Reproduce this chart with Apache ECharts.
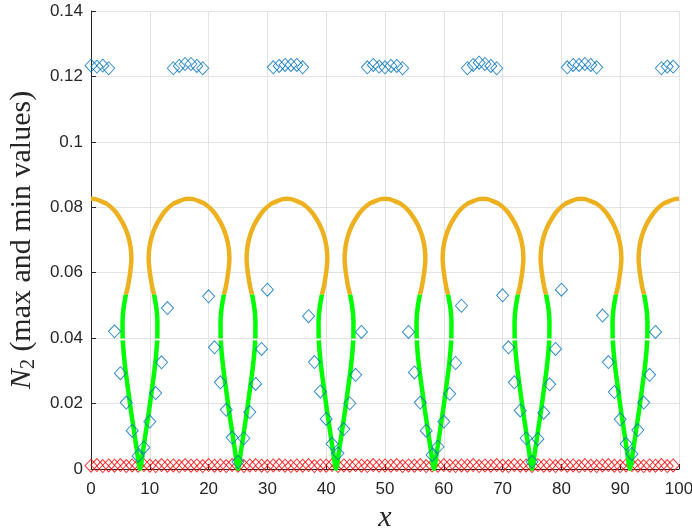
<!DOCTYPE html>
<html><head><meta charset="utf-8">
<script src="https://cdn.jsdelivr.net/npm/echarts@6/dist/echarts.min.js"></script>
<style>html,body{margin:0;padding:0;background:#fff}#c{width:692px;height:531px}</style>
</head><body><div id="c"></div>
<script>
// ---- tick labels ----
const xTicks = [0, 10, 20, 30, 40, 50, 60, 70, 80, 90, 100];
const yTickLabels = ['0', '0.02', '0.04', '0.06', '0.08', '0.1', '0.12', '0.14'];

// ---- sample positions (integer x) ----
const sampleX = [0,1,2,3,4,5,6,7,8,9,10,11,12,13,14,15,16,17,18,19,20,21,22,23,24,25,26,27,28,29,
  30,31,32,33,34,35,36,37,38,39,40,41,42,43,44,45,46,47,48,49,50,51,52,53,54,55,56,57,58,59,
  60,61,62,63,64,65,66,67,68,69,70,71,72,73,74,75,76,77,78,79,80,81,82,83,84,85,86,87,88,89,
  90,91,92,93,94,95,96,97,98,99];

// ---- max values (blue diamonds) ----
const maxVals = [0.1233,0.1230,0.1233,0.1225,
  0.0421,0.0293,0.0203,0.0117,0.0040,0.0066,0.0145,0.0232,0.0326,0.0492,
  0.1225,0.1232,0.1238,0.1238,0.1232,0.1225,
  0.0528,0.0372,0.0265,0.0181,0.0096,0.0022,0.0094,0.0174,0.0260,0.0367,0.0548,
  0.1228,0.1232,0.1235,0.1235,0.1235,0.1228,
  0.0467,0.0327,0.0237,0.0153,0.0077,0.0048,0.0122,0.0201,0.0288,0.0419,
  0.1228,0.1235,0.1230,0.1228,0.1232,0.1232,0.1225,
  0.0419,0.0295,0.0203,0.0117,0.0043,0.0068,0.0145,0.0230,0.0324,0.0499,
  0.1225,0.1235,0.1242,0.1238,0.1232,0.1225,
  0.0531,0.0372,0.0265,0.0179,0.0094,0.0022,0.0092,0.0172,0.0259,0.0367,0.0548,
  0.1228,0.1235,0.1235,0.1238,0.1235,0.1228,
  0.0469,0.0327,0.0235,0.0152,0.0077,0.0046,0.0119,0.0203,0.0288,0.0419,
  0.1225,0.1230,0.1230];

// ---- min values (red diamonds) ----
const minVals = [0.0010,0.0012,0.0009,0.0011,0.0010,0.0012,0.0009,0.0011,0.0010,0.0012,
  0.0010,0.0009,0.0012,0.0010,0.0011,0.0009,0.0012,0.0010,0.0011,0.0009,
  0.0012,0.0010,0.0011,0.0009,0.0012,0.0010,0.0009,0.0011,0.0012,0.0010,
  0.0009,0.0011,0.0012,0.0010,0.0009,0.0011,0.0010,0.0012,0.0009,0.0011,
  0.0010,0.0012,0.0009,0.0011,0.0010,0.0012,0.0010,0.0009,0.0012,0.0010,
  0.0011,0.0010,0.0012,0.0009,0.0011,0.0010,0.0012,0.0009,0.0011,0.0010,
  0.0012,0.0010,0.0009,0.0011,0.0010,0.0012,0.0009,0.0011,0.0010,0.0012,
  0.0010,0.0009,0.0012,0.0010,0.0011,0.0009,0.0012,0.0010,0.0011,0.0009,
  0.0012,0.0010,0.0011,0.0009,0.0012,0.0010,0.0009,0.0011,0.0012,0.0010,
  0.0009,0.0011,0.0012,0.0010,0.0009,0.0011,0.0010,0.0012,0.0009,0.0011];

// ---- orange arcs (upper branches), y levels shared ----
const domeY = [0.0533,0.0558,0.0599,0.0625,0.0645,0.0680,0.0711,0.0740,0.0765,0.0790,0.0810,0.0820,0.0825,
  0.0826,
  0.0825,0.0820,0.0810,0.0790,0.0765,0.0740,0.0711,0.0680,0.0645,0.0625,0.0599,0.0558,0.0533];
const dome0X = [0.00,0.73,1.53,2.73,3.98,4.98,5.73,6.33,6.71,6.87,6.81,6.65,6.28,5.93];
const dome17X = [10.74,10.39,10.02,9.86,9.80,9.96,10.34,10.94,11.69,12.69,13.94,15.14,15.94,16.67,
  17.40,18.20,19.40,20.65,21.65,22.40,23.00,23.38,23.54,23.48,23.32,22.95,22.60];
const dome33X = [27.40,27.05,26.68,26.52,26.46,26.62,27.00,27.60,28.35,29.35,30.60,31.80,32.60,33.33,
  34.06,34.86,36.06,37.31,38.31,39.06,39.66,40.04,40.20,40.14,39.98,39.61,39.26];
const dome50X = [44.07,43.72,43.35,43.19,43.13,43.29,43.67,44.27,45.02,46.02,47.27,48.47,49.27,50.00,
  50.73,51.53,52.73,53.98,54.98,55.73,56.33,56.71,56.87,56.81,56.65,56.28,55.93];
const dome67X = [60.74,60.39,60.02,59.86,59.80,59.96,60.34,60.94,61.69,62.69,63.94,65.14,65.94,66.67,
  67.40,68.20,69.40,70.65,71.65,72.40,73.00,73.38,73.54,73.48,73.32,72.95,72.60];
const dome83X = [77.40,77.05,76.68,76.52,76.46,76.62,77.00,77.60,78.35,79.35,80.60,81.80,82.60,83.33,
  84.06,84.86,86.06,87.31,88.31,89.06,89.66,90.04,90.20,90.14,89.98,89.61,89.26];
const dome100X = [94.07,93.72,93.35,93.19,93.13,93.29,93.67,94.27,95.02,96.02,97.27,98.47,99.27,100.00];

// ---- green V lobes (lower branches), y levels shared ----
const lobeY = [0.0533,0.049,0.045,0.0399,null,0.0393,0.035,0.030,0.024,0.018,0.012,0.006,0,
  0.006,0.012,0.018,0.024,0.030,0.035,0.0393,null,0.0399,0.045,0.049,0.0533];
const lobe8X = [5.93,5.53,5.36,5.38,null,5.40,5.58,5.88,6.33,6.78,7.28,7.78,8.33,
  8.88,9.38,9.88,10.33,10.78,11.08,11.26,null,11.28,11.30,11.13,10.73];
const lobe25X = [22.60,22.20,22.03,22.05,null,22.07,22.25,22.55,23.00,23.45,23.95,24.45,25.00,
  25.55,26.05,26.55,27.00,27.45,27.75,27.93,null,27.95,27.97,27.80,27.40];
const lobe42X = [39.27,38.87,38.70,38.72,null,38.74,38.92,39.22,39.67,40.12,40.62,41.12,41.67,
  42.22,42.72,43.22,43.67,44.12,44.42,44.60,null,44.62,44.64,44.47,44.07];
const lobe58X = [55.93,55.53,55.36,55.38,null,55.40,55.58,55.88,56.33,56.78,57.28,57.78,58.33,
  58.88,59.38,59.88,60.33,60.78,61.08,61.26,null,61.28,61.30,61.13,60.73];
const lobe75X = [72.60,72.20,72.03,72.05,null,72.07,72.25,72.55,73.00,73.45,73.95,74.45,75.00,
  75.55,76.05,76.55,77.00,77.45,77.75,77.93,null,77.95,77.97,77.80,77.40];
const lobe92X = [89.27,88.87,88.70,88.72,null,88.74,88.92,89.22,89.67,90.12,90.62,91.12,91.67,
  92.22,92.72,93.22,93.67,94.12,94.42,94.60,null,94.62,94.64,94.47,94.07];

function pairs(xs, ys) {
  return xs.map((x, i) => (x === null || ys[i] === null) ? ['-', '-'] : [x, ys[i]]);
}
function joinCurves(list) {
  const out = [];
  list.forEach((p, k) => { if (k) out.push(['-', '-']); out.push(...p); });
  return out;
}
const orangeData = joinCurves([
  pairs(dome0X, domeY.slice(13)),
  pairs(dome17X, domeY), pairs(dome33X, domeY), pairs(dome50X, domeY),
  pairs(dome67X, domeY), pairs(dome83X, domeY),
  pairs(dome100X, domeY.slice(0, 14))
]);
const greenData = joinCurves([
  pairs(lobe8X, lobeY), pairs(lobe25X, lobeY), pairs(lobe42X, lobeY),
  pairs(lobe58X, lobeY), pairs(lobe75X, lobeY), pairs(lobe92X, lobeY)
]);

const tickColor = '#262626';
const chart = echarts.init(document.getElementById('c'), null, {renderer: 'canvas'});
chart.setOption({
  animation: false,
  backgroundColor: '#ffffff',
  grid: {left: 91, right: 13, top: 11, bottom: 62, containLabel: false, outerBoundsMode: 'none'},
  xAxis: {
    type: 'value', min: 0, max: 100, interval: 10,
    name: 'x', nameLocation: 'middle', nameGap: 30,
    nameTextStyle: {fontFamily: 'Liberation Serif', fontStyle: 'italic', fontSize: 30, color: tickColor},
    axisLine: {show: true, onZero: false, lineStyle: {color: tickColor, width: 1}},
    axisTick: {show: true, inside: true, length: 5, lineStyle: {color: tickColor}},
    axisLabel: {fontFamily: 'Liberation Sans', fontSize: 17, color: tickColor, margin: 12,
      formatter: v => String(xTicks[Math.round(v / 10)])},
    splitLine: {show: true, lineStyle: {color: '#e3e3e3', width: 1}}
  },
  yAxis: {
    type: 'value', min: 0, max: 0.14, interval: 0.02,
    name: '{it|N}{sub|2}{rm| (max and min values)}', nameLocation: 'middle', nameGap: 44, nameRotate: 90,
    nameTextStyle: {
      color: tickColor,
      rich: {
        it: {fontFamily: 'Liberation Serif', fontStyle: 'italic', fontSize: 30, color: tickColor},
        sub: {fontFamily: 'Liberation Serif', fontSize: 20, color: tickColor, padding: [13, 0, 0, 0]},
        rm: {fontFamily: 'Liberation Serif', fontSize: 30, color: tickColor}
      }
    },
    axisLine: {show: true, lineStyle: {color: tickColor, width: 1}},
    axisTick: {show: true, inside: true, length: 5, lineStyle: {color: tickColor}},
    axisLabel: {fontFamily: 'Liberation Sans', fontSize: 17, color: tickColor, margin: 8,
      formatter: v => yTickLabels[Math.round(v / 0.02)]},
    splitLine: {show: true, lineStyle: {color: '#e3e3e3', width: 1}}
  },
  series: [
    {
      type: 'scatter', name: 'min', z: 2, clip: false,
      symbol: 'diamond', symbolSize: [12, 13],
      itemStyle: {color: 'rgba(0,0,0,0)', borderColor: '#ff0000', borderWidth: 1},
      data: sampleX.map((x, i) => [x, minVals[i]])
    },
    {
      type: 'line', name: 'upper', z: 3, showSymbol: false, symbol: 'none', smooth: 0.25,
      connectNulls: false, clip: true,
      lineStyle: {color: '#EDB120', width: 4.5, cap: 'butt'},
      data: orangeData
    },
    {
      type: 'line', name: 'lower', z: 3, showSymbol: false, symbol: 'none', smooth: 0.25,
      connectNulls: false, clip: true,
      lineStyle: {color: '#00FF00', width: 4.5, cap: 'butt'},
      data: greenData
    },
    {
      type: 'scatter', name: 'max', z: 4, clip: false,
      symbol: 'diamond', symbolSize: [12, 13],
      itemStyle: {color: 'rgba(0,0,0,0)', borderColor: '#0072BD', borderWidth: 1},
      data: sampleX.map((x, i) => [x, maxVals[i]])
    }
  ]
});
</script>
</body></html>
